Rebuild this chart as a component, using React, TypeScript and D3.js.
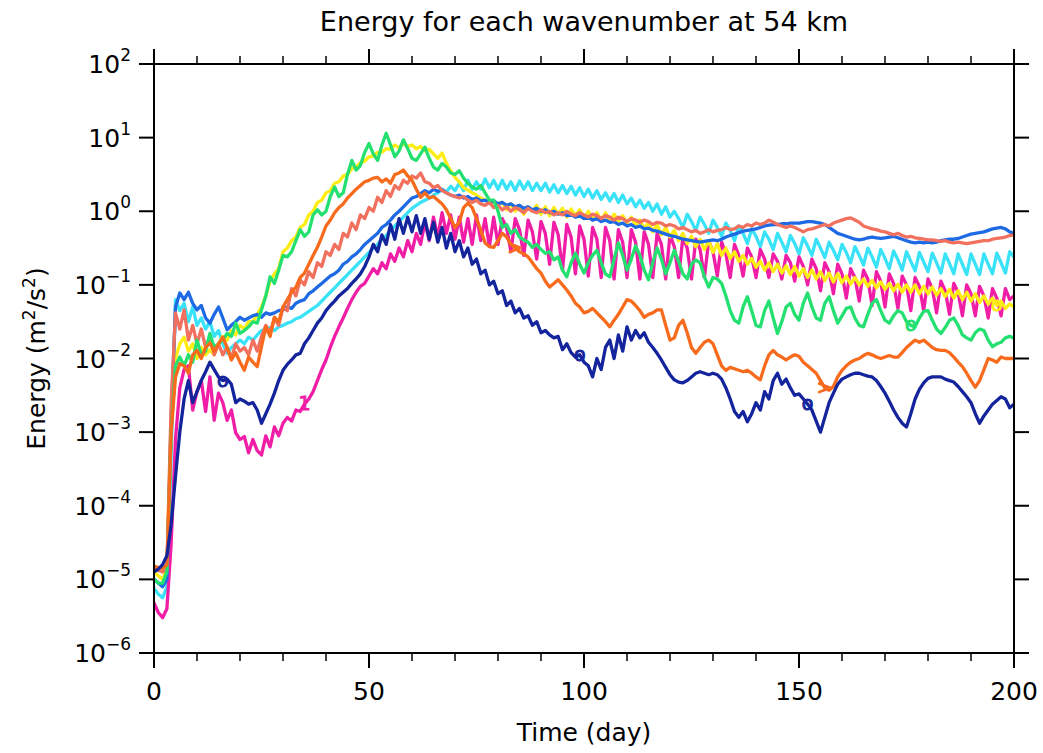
import React from 'react';
import * as d3 from 'd3';

// x categories: one sample per day, 0..200
const days: number[] = d3.range(0, 201);

// log10 of energy (m^2/s^2), one value per day
const navy = [
-4.90,-4.86,-4.80,-4.68,-4.25,-3.60,-3.00,-2.55,-2.30,-2.60,-2.45,
-2.30,-2.18,-2.05,-2.15,-2.25,-2.30,-2.28,-2.35,-2.60,-2.55,
-2.58,-2.62,-2.60,-2.70,-2.88,-2.75,-2.62,-2.47,-2.30,-2.16,
-2.08,-2.02,-1.95,-1.93,-1.80,-1.72,-1.62,-1.52,-1.45,-1.35,
-1.28,-1.22,-1.15,-1.10,-1.05,-0.98,-0.92,-0.85,-0.75,-0.62,
-0.45,-0.55,-0.32,-0.45,-0.18,-0.38,-0.10,-0.30,-0.08,-0.28,
-0.06,-0.30,-0.10,-0.38,-0.15,-0.42,-0.22,-0.50,-0.30,-0.55,
-0.40,-0.62,-0.50,-0.72,-0.65,-0.85,-0.80,-1.00,-0.95,-1.12,
-1.08,-1.28,-1.22,-1.38,-1.32,-1.45,-1.42,-1.55,-1.50,-1.65,
-1.62,-1.68,-1.72,-1.70,-1.88,-1.80,-1.92,-1.98,-1.95,-2.05,
-2.10,-2.25,-2.00,-2.15,-1.85,-1.75,-2.00,-1.68,-1.90,-1.57,
-1.75,-1.62,-1.72,-1.65,-1.78,-1.85,-1.93,-2.02,-2.12,-2.22,
-2.29,-2.32,-2.33,-2.30,-2.25,-2.20,-2.18,-2.20,-2.22,-2.20,
-2.22,-2.28,-2.40,-2.55,-2.72,-2.80,-2.72,-2.86,-2.75,-2.60,
-2.70,-2.45,-2.55,-2.30,-2.20,-2.35,-2.28,-2.40,-2.50,-2.48,
-2.55,-2.62,-2.70,-2.85,-3.00,-2.80,-2.60,-2.47,-2.35,-2.28,
-2.25,-2.22,-2.20,-2.20,-2.22,-2.24,-2.25,-2.30,-2.38,-2.47,
-2.58,-2.70,-2.80,-2.88,-2.93,-2.75,-2.55,-2.42,-2.33,-2.27,
-2.25,-2.25,-2.25,-2.28,-2.30,-2.32,-2.38,-2.45,-2.52,-2.60,
-2.75,-2.88,-2.78,-2.70,-2.62,-2.57,-2.52,-2.55,-2.67,-2.62];

const magenta = [
-5.32,-5.45,-5.52,-5.40,-4.50,-3.10,-2.40,-2.15,-2.10,-2.70,-2.45,
-2.30,-2.72,-2.25,-2.84,-2.47,-2.60,-2.84,-2.70,-3.01,-3.10,
-3.06,-3.28,-3.10,-3.25,-3.31,-3.05,-3.20,-2.93,-3.05,-2.88,
-2.80,-2.85,-2.70,-2.72,-2.62,-2.55,-2.45,-2.30,-2.15,-2.02,
-1.85,-1.70,-1.57,-1.45,-1.32,-1.20,-1.10,-1.02,-0.98,-0.88,
-0.78,-0.85,-0.70,-0.78,-0.58,-0.68,-0.50,-0.62,-0.40,-0.55,
-0.30,-0.45,-0.15,-0.40,-0.08,-0.35,-0.02,-0.30,-0.05,-0.38,
-0.08,-0.42,-0.10,-0.45,-0.05,-0.40,-0.10,-0.48,-0.08,-0.45,
-0.10,-0.22,-0.55,-0.10,-0.25,-0.60,-0.12,-0.28,-0.65,-0.14,
-0.30,-0.72,-0.15,-0.32,-0.80,-0.18,-0.35,-0.85,-0.20,-0.38,
-0.88,-0.22,-0.38,-0.90,-0.22,-0.40,-0.92,-0.25,-0.42,-0.90,
-0.25,-0.42,-0.92,-0.28,-0.45,-0.90,-0.30,-0.45,-0.92,-0.32,
-0.48,-0.90,-0.35,-0.50,-0.92,-0.38,-0.52,-0.90,-0.40,-0.55,
-0.88,-0.42,-0.58,-0.90,-0.45,-0.60,-0.88,-0.50,-0.62,-0.90,
-0.52,-0.65,-0.90,-0.58,-0.68,-0.92,-0.60,-0.70,-0.95,-0.62,
-0.75,-1.00,-0.65,-0.78,-1.08,-0.70,-0.82,-1.12,-0.72,-0.85,
-1.18,-0.78,-0.90,-1.22,-0.80,-0.92,-1.28,-0.82,-0.95,-1.30,
-0.85,-0.98,-1.32,-0.88,-1.00,-1.35,-0.90,-1.02,-1.35,-0.92,
-1.05,-1.38,-0.95,-1.08,-1.40,-0.98,-1.10,-1.42,-1.00,-1.12,
-1.42,-1.02,-1.15,-1.45,-1.05,-1.18,-1.42,-1.05,-1.20,-1.15];

const orange = [
-4.82,-4.84,-4.85,-4.80,-3.00,-2.25,-2.07,-2.10,-2.20,-1.95,-1.89,
-2.00,-1.85,-1.79,-1.90,-1.80,-1.71,-1.85,-2.02,-1.92,-2.05,
-2.16,-1.98,-2.05,-2.11,-1.84,-1.57,-1.70,-1.44,-1.50,-1.30,
-1.20,-1.10,-1.03,-0.90,-0.84,-0.72,-0.60,-0.49,-0.35,-0.20,
-0.12,-0.02,0.05,0.10,0.18,0.24,0.30,0.35,0.40,0.42,
0.45,0.46,0.40,0.44,0.38,0.50,0.52,0.56,0.48,0.42,
0.30,0.19,0.25,0.18,0.20,0.15,0.10,0.02,-0.10,-0.22,
-0.15,0.05,0.11,0.05,-0.10,-0.26,-0.43,-0.48,-0.49,-0.40,
-0.30,-0.35,-0.45,-0.50,-0.55,-0.58,-0.62,-0.70,-0.78,-0.84,
-0.95,-1.03,-0.98,-0.93,-1.00,-1.07,-1.15,-1.25,-1.30,-1.38,
-1.36,-1.32,-1.38,-1.44,-1.50,-1.57,-1.48,-1.40,-1.30,-1.20,
-1.22,-1.28,-1.35,-1.44,-1.40,-1.38,-1.34,-1.34,-1.55,-1.75,
-1.72,-1.55,-1.48,-1.65,-1.85,-1.93,-1.85,-1.78,-1.75,-1.80,
-1.95,-2.10,-2.16,-2.12,-2.14,-2.16,-2.18,-2.16,-2.20,-2.25,
-2.29,-2.10,-1.95,-1.89,-1.95,-1.98,-2.02,-1.98,-1.95,-1.97,
-2.05,-2.10,-2.15,-2.20,-2.30,-2.40,-2.43,-2.38,-2.25,-2.16,
-2.10,-2.05,-2.02,-2.00,-1.96,-1.93,-1.95,-1.98,-2.00,-1.98,
-1.96,-1.98,-1.98,-1.92,-1.85,-1.80,-1.75,-1.78,-1.75,-1.80,
-1.85,-1.88,-1.89,-1.89,-1.92,-1.98,-2.05,-2.11,-2.20,-2.30,
-2.39,-2.30,-2.15,-2.00,-2.02,-2.05,-1.98,-2.00,-2.00,-2.00];

const salmon = [
-4.85,-4.88,-4.90,-4.85,-2.60,-1.38,-1.60,-1.34,-1.75,-1.55,-1.80,
-1.60,-1.85,-1.70,-1.95,-1.80,-1.95,-1.85,-2.00,-1.80,-1.90,
-1.85,-1.95,-1.75,-1.90,-1.70,-1.55,-1.65,-1.45,-1.55,-1.30,
-1.35,-1.05,-1.15,-0.93,-1.00,-0.82,-0.90,-0.70,-0.75,-0.55,
-0.60,-0.45,-0.52,-0.30,-0.35,-0.16,-0.25,-0.05,-0.10,0.05,
0.00,0.19,0.12,0.28,0.20,0.35,0.30,0.42,0.38,0.48,
0.45,0.52,0.40,0.38,0.32,0.35,0.28,0.25,0.22,0.20,
0.18,0.20,0.15,0.12,0.15,0.10,0.08,0.12,0.05,0.08,
0.02,0.06,0.00,0.05,0.02,-0.02,0.04,0.00,-0.02,0.02,
-0.02,0.00,-0.05,-0.02,-0.05,0.00,-0.04,-0.06,-0.02,-0.05,
-0.08,-0.04,-0.06,-0.10,-0.06,-0.08,-0.12,-0.08,-0.10,-0.14,
-0.10,-0.12,-0.15,-0.12,-0.14,-0.18,-0.15,-0.16,-0.20,-0.18,
-0.20,-0.24,-0.22,-0.25,-0.28,-0.26,-0.30,-0.28,-0.25,-0.28,
-0.26,-0.25,-0.22,-0.25,-0.24,-0.20,-0.22,-0.18,-0.20,-0.16,
-0.18,-0.16,-0.12,-0.15,-0.18,-0.20,-0.22,-0.20,-0.22,-0.25,
-0.28,-0.25,-0.24,-0.22,-0.20,-0.18,-0.20,-0.16,-0.14,-0.12,
-0.10,-0.09,-0.12,-0.15,-0.20,-0.22,-0.24,-0.25,-0.27,-0.28,
-0.30,-0.32,-0.30,-0.33,-0.35,-0.34,-0.36,-0.37,-0.38,-0.39,
-0.39,-0.40,-0.41,-0.40,-0.42,-0.43,-0.42,-0.43,-0.44,-0.43,
-0.42,-0.41,-0.40,-0.40,-0.38,-0.37,-0.36,-0.35,-0.33,-0.32];

const blue = [
-5.00,-5.05,-5.10,-5.00,-2.80,-1.30,-1.11,-1.20,-1.10,-1.25,-1.34,
-1.28,-1.45,-1.52,-1.40,-1.30,-1.45,-1.61,-1.55,-1.50,-1.44,
-1.48,-1.45,-1.42,-1.40,-1.44,-1.38,-1.40,-1.38,-1.35,-1.34,
-1.30,-1.32,-1.25,-1.22,-1.20,-1.12,-1.08,-1.03,-0.98,-0.93,
-0.88,-0.85,-0.80,-0.72,-0.68,-0.62,-0.58,-0.52,-0.45,-0.40,
-0.35,-0.30,-0.22,-0.18,-0.12,-0.05,0.00,0.06,0.12,0.18,
0.20,0.24,0.28,0.25,0.30,0.27,0.29,0.25,0.22,0.20,
0.22,0.18,0.20,0.16,0.18,0.14,0.15,0.12,0.14,0.10,
0.12,0.08,0.10,0.06,0.08,0.04,0.06,0.02,0.04,0.00,
0.02,-0.02,0.00,-0.04,-0.02,-0.06,-0.04,-0.08,-0.06,-0.10,
-0.08,-0.12,-0.10,-0.14,-0.12,-0.15,-0.14,-0.18,-0.16,-0.20,
-0.18,-0.22,-0.20,-0.24,-0.23,-0.26,-0.27,-0.29,-0.31,-0.33,
-0.34,-0.36,-0.38,-0.39,-0.40,-0.41,-0.42,-0.41,-0.40,-0.39,
-0.40,-0.38,-0.35,-0.33,-0.31,-0.29,-0.27,-0.26,-0.25,-0.24,
-0.22,-0.20,-0.19,-0.18,-0.18,-0.17,-0.17,-0.16,-0.16,-0.16,
-0.15,-0.14,-0.14,-0.15,-0.16,-0.18,-0.22,-0.26,-0.30,-0.32,
-0.34,-0.36,-0.38,-0.39,-0.38,-0.36,-0.35,-0.36,-0.37,-0.36,
-0.35,-0.34,-0.36,-0.38,-0.40,-0.42,-0.43,-0.42,-0.43,-0.42,
-0.43,-0.42,-0.40,-0.39,-0.38,-0.38,-0.37,-0.35,-0.33,-0.31,
-0.30,-0.29,-0.28,-0.26,-0.24,-0.23,-0.22,-0.24,-0.28,-0.30];

const cyan = [
-5.12,-5.20,-5.25,-5.10,-3.30,-1.20,-1.35,-1.25,-1.50,-1.30,-1.55,
-1.45,-1.60,-1.50,-1.70,-1.62,-1.80,-1.93,-1.85,-1.80,-1.75,
-1.80,-1.71,-1.75,-1.68,-1.62,-1.60,-1.58,-1.62,-1.57,-1.55,
-1.52,-1.50,-1.46,-1.44,-1.40,-1.36,-1.32,-1.28,-1.22,-1.16,
-1.10,-1.04,-0.98,-0.92,-0.86,-0.80,-0.74,-0.68,-0.62,-0.56,
-0.50,-0.45,-0.38,-0.33,-0.26,-0.20,-0.14,-0.08,-0.02,0.04,
0.08,0.12,0.15,0.18,0.22,0.25,0.30,0.26,0.34,0.28,
0.38,0.28,0.42,0.30,0.40,0.30,0.44,0.32,0.42,0.30,
0.42,0.30,0.40,0.28,0.41,0.30,0.40,0.28,0.38,0.28,
0.38,0.26,0.36,0.25,0.35,0.24,0.34,0.22,0.32,0.20,
0.30,0.18,0.28,0.16,0.25,0.14,0.24,0.12,0.22,0.10,
0.18,0.06,0.15,0.04,0.12,0.00,0.10,-0.04,0.06,-0.08,
0.00,-0.10,-0.22,-0.04,-0.14,-0.26,-0.08,-0.18,-0.30,-0.12,
-0.22,-0.34,-0.16,-0.26,-0.40,-0.20,-0.30,-0.44,-0.24,-0.34,
-0.48,-0.28,-0.38,-0.52,-0.30,-0.42,-0.55,-0.33,-0.44,-0.58,
-0.36,-0.47,-0.60,-0.38,-0.50,-0.63,-0.42,-0.53,-0.66,-0.45,
-0.56,-0.70,-0.48,-0.60,-0.73,-0.50,-0.62,-0.76,-0.52,-0.64,
-0.78,-0.54,-0.66,-0.80,-0.55,-0.68,-0.81,-0.56,-0.69,-0.82,
-0.57,-0.70,-0.84,-0.58,-0.71,-0.85,-0.58,-0.72,-0.86,-0.58,
-0.72,-0.86,-0.58,-0.72,-0.85,-0.57,-0.70,-0.84,-0.55,-0.62];

const yellow = [
-4.90,-4.95,-5.00,-4.85,-2.80,-2.00,-1.80,-1.71,-1.90,-1.80,-2.00,
-1.85,-1.95,-1.88,-1.95,-1.80,-1.70,-1.75,-1.62,-1.68,-1.55,
-1.60,-1.50,-1.50,-1.40,-1.30,-1.15,-0.95,-0.85,-0.78,-0.55,
-0.50,-0.40,-0.35,-0.22,-0.18,-0.05,0.00,0.12,0.15,0.25,
0.28,0.38,0.40,0.48,0.50,0.58,0.60,0.66,0.68,0.74,
0.75,0.80,0.80,0.85,0.84,0.90,0.86,0.92,0.88,0.90,
0.85,0.88,0.82,0.84,0.78,0.72,0.79,0.65,0.55,0.46,
0.40,0.32,0.29,0.25,0.22,0.18,0.15,0.13,0.12,0.10,
0.12,0.02,0.10,0.00,0.08,-0.04,0.06,0.00,0.08,-0.04,
0.06,-0.06,0.05,-0.04,0.04,-0.08,0.03,-0.06,0.02,-0.10,
0.00,-0.10,-0.02,-0.12,-0.02,-0.14,-0.04,-0.14,-0.06,-0.16,
-0.08,-0.20,-0.12,-0.24,-0.15,-0.28,-0.18,-0.32,-0.22,-0.35,
-0.26,-0.40,-0.30,-0.44,-0.34,-0.48,-0.38,-0.52,-0.40,-0.56,
-0.44,-0.60,-0.50,-0.64,-0.55,-0.68,-0.60,-0.72,-0.64,-0.76,
-0.68,-0.80,-0.70,-0.82,-0.72,-0.84,-0.74,-0.86,-0.75,-0.88,
-0.78,-0.90,-0.80,-0.92,-0.82,-0.94,-0.84,-0.96,-0.85,-0.97,
-0.88,-0.99,-0.90,-1.00,-0.92,-1.02,-0.94,-1.04,-0.96,-1.06,
-0.98,-1.08,-0.99,-1.10,-1.00,-1.10,-1.00,-1.12,-1.02,-1.12,
-1.03,-1.14,-1.05,-1.16,-1.06,-1.18,-1.08,-1.20,-1.10,-1.22,
-1.12,-1.24,-1.15,-1.26,-1.18,-1.28,-1.22,-1.32,-1.26,-1.30];

const green = [
-5.00,-5.05,-5.05,-4.90,-3.00,-2.10,-1.98,-2.10,-1.95,-2.05,-1.75,
-1.95,-1.90,-1.66,-1.85,-1.80,-1.75,-1.66,-1.70,-1.52,-1.66,
-1.62,-1.57,-1.50,-1.52,-1.34,-1.15,-0.89,-0.98,-0.80,-0.60,
-0.62,-0.55,-0.40,-0.25,-0.34,-0.28,-0.05,0.02,-0.05,0.00,
0.20,0.33,0.20,0.25,0.50,0.69,0.56,0.62,0.80,0.92,
0.78,0.69,0.90,1.06,0.90,0.74,0.82,0.97,0.85,0.72,
0.69,0.78,0.87,0.72,0.60,0.56,0.65,0.60,0.52,0.50,
0.55,0.45,0.38,0.33,0.30,0.35,0.25,0.15,0.15,0.00,
-0.22,-0.18,-0.30,-0.25,-0.35,-0.39,-0.42,-0.49,-0.45,-0.52,
-0.57,-0.55,-0.66,-0.62,-0.80,-0.89,-0.70,-0.57,-0.72,-0.84,
-0.70,-0.60,-0.53,-0.70,-0.85,-0.89,-0.65,-0.43,-0.60,-0.80,
-0.65,-0.47,-0.60,-0.80,-0.93,-0.70,-0.50,-0.65,-0.85,-0.70,
-0.53,-0.68,-0.85,-0.92,-0.72,-0.66,-0.70,-0.89,-1.03,-0.90,
-0.92,-0.98,-1.15,-1.35,-1.48,-1.52,-1.30,-1.16,-1.35,-1.55,
-1.57,-1.35,-1.22,-1.45,-1.66,-1.50,-1.30,-1.25,-1.40,-1.48,
-1.25,-1.11,-1.30,-1.45,-1.48,-1.25,-1.16,-1.35,-1.52,-1.42,
-1.32,-1.30,-1.45,-1.55,-1.57,-1.40,-1.25,-1.20,-1.35,-1.48,
-1.52,-1.42,-1.35,-1.38,-1.50,-1.55,-1.57,-1.45,-1.36,-1.35,
-1.48,-1.60,-1.66,-1.58,-1.48,-1.45,-1.55,-1.68,-1.72,-1.75,
-1.65,-1.60,-1.62,-1.75,-1.84,-1.80,-1.78,-1.72,-1.70,-1.72];

const seriesNames = ['cyan', 'magenta', 'yellow', 'blue', 'salmon', 'green', 'orange', 'navy'];
const seriesValues: Record<string, number[]> = { cyan, magenta, yellow, blue, salmon, green, orange, navy };
const seriesColors: Record<string, string> = {
  cyan: '#3ae2f8', magenta: '#f01ea6', yellow: '#ffec12', blue: '#1e6ae4',
  salmon: '#f2705e', green: '#24e070', orange: '#f86a1c', navy: '#14249c',
};

const xTicksMajor = [0, 50, 100, 150, 200];
const xTicksMinor = [10, 20, 30, 40, 60, 70, 80, 90, 110, 120, 130, 140, 160, 170, 180, 190];
const yExponents = [2, 1, 0, -1, -2, -3, -4, -5, -6];

const lineLabels = [
  { series: 'navy', day: 16, text: 'o' },
  { series: 'magenta', day: 35, text: '1' },
  { series: 'orange', day: 84, text: '>' },
  { series: 'navy', day: 99, text: 'o' },
  { series: 'navy', day: 152, text: 'o' },
  { series: 'orange', day: 156, text: '>' },
  { series: 'green', day: 176, text: 'o' },
  { series: 'yellow', day: 196, text: 'o' },
];

const title = 'Energy for each wavenumber at 54 km';
const xTitle = 'Time (day)';

export default function App() {
  const W = 1043, H = 753;
  const left = 154, right = 1014, top = 64, bottom = 653;
  const x = d3.scaleLinear().domain([0, 200]).range([left, right]);
  const y = d3.scaleLog().domain([1e-6, 1e2]).range([bottom, top]);
  const line = d3.line<number>()
    .x((_, i) => x(days[i]))
    .y((v) => y(Math.pow(10, v)));
  const font = '"DejaVu Sans", sans-serif';
  const fmtExp = (e: number) => (e < 0 ? '\u2212' + Math.abs(e) : String(e));

  return (
    <svg width={W} height={H} style={{ position: 'absolute', left: 0, top: 0, background: '#fff' }}
      fontFamily={font}>
      <rect x={0} y={0} width={W} height={H} fill="#fff" />
      <defs>
        <clipPath id="plotClip">
          <rect x={left} y={top} width={right - left} height={bottom - top} />
        </clipPath>
      </defs>
      <g clipPath="url(#plotClip)">
        {seriesNames.map((name) => (
          <path key={name} d={line(seriesValues[name]) || ''} fill="none"
            stroke={seriesColors[name]} strokeWidth={3.3} strokeLinejoin="round" strokeLinecap="round" />
        ))}
        {lineLabels.map((l, i) => (
          <text key={i} x={x(l.day)} y={y(Math.pow(10, seriesValues[l.series][l.day])) + 6}
            textAnchor="middle" fontSize={19} fill={seriesColors[l.series]}
            stroke={seriesColors[l.series]} strokeWidth={1}>{l.text}</text>
        ))}
      </g>
      {/* frame */}
      <rect x={left} y={top} width={right - left} height={bottom - top} fill="none" stroke="#000" strokeWidth={2} />
      {/* x ticks */}
      {xTicksMajor.map((t) => (
        <g key={'xm' + t}>
          <line x1={x(t)} x2={x(t)} y1={bottom} y2={bottom + 15} stroke="#000" strokeWidth={2} />
          <line x1={x(t)} x2={x(t)} y1={top} y2={top - 15} stroke="#000" strokeWidth={2} />
          <text x={x(t)} y={bottom + 47} textAnchor="middle" fontSize={25}>{t}</text>
        </g>
      ))}
      {xTicksMinor.map((t) => (
        <g key={'xn' + t}>
          <line x1={x(t)} x2={x(t)} y1={bottom} y2={bottom + 8} stroke="#000" strokeWidth={1.5} />
          <line x1={x(t)} x2={x(t)} y1={top} y2={top - 8} stroke="#000" strokeWidth={1.5} />
        </g>
      ))}
      {/* y ticks */}
      {yExponents.map((e) => {
        const yy = y(Math.pow(10, e));
        return (
          <g key={'y' + e}>
            <line x1={left} x2={left - 15} y1={yy} y2={yy} stroke="#000" strokeWidth={2} />
            <line x1={right} x2={right + 15} y1={yy} y2={yy} stroke="#000" strokeWidth={2} />
            <text x={left - 23} y={yy + 9} textAnchor="end" fontSize={25}>
              10<tspan dy={-12} fontSize={17}>{fmtExp(e)}</tspan>
            </text>
          </g>
        );
      })}
      {/* titles */}
      <text x={(left + right) / 2} y={31} textAnchor="middle" fontSize={27}>{title}</text>
      <text x={(left + right) / 2} y={741} textAnchor="middle" fontSize={25}>{xTitle}</text>
      <text transform={`translate(45, ${(top + bottom) / 2}) rotate(-90)`} textAnchor="middle" fontSize={25}>
        Energy (m<tspan dy={-10} fontSize={17}>2</tspan><tspan dy={10}>/s</tspan><tspan dy={-10} fontSize={17}>2</tspan><tspan dy={10}>)</tspan>
      </text>
    </svg>
  );
}
